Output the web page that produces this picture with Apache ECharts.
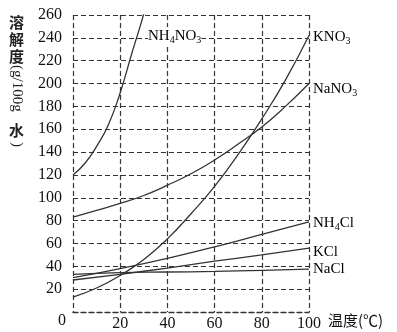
<!DOCTYPE html>
<html><head><meta charset="utf-8">
<script src="https://cdn.jsdelivr.net/npm/echarts@6/dist/echarts.min.js"></script>
<style>html,body{margin:0;padding:0;background:#fff}#c{width:397px;height:332px}</style>
</head><body><div id="c"></div>
<script>
var xTicks = [0, 20, 40, 60, 80, 100];
var yTicks = [0, 20, 40, 60, 80, 100, 120, 140, 160, 180, 200, 220, 240, 260];
var nh4no3 = [[0,120],[5,130],[10,145],[15,164],[20,192],[25,227],[30,261],[32,278]];
var kno3 = [[0,13],[10,21],[20,32],[30,46],[40,64],[50,86],[60,110],[70,138],[80,169],[90,203],[100,242]];
var nano3 = [[0,83],[10,89],[20,95],[30,102],[40,111],[50,121],[60,133],[70,147],[80,162],[90,180],[100,200]];
var nh4cl = [[0,30],[20,38],[40,47],[60,57],[80,68],[100,79]];
var kcl = [[0,28],[20,33],[40,38.5],[60,44.5],[80,50],[100,56]];
var nacl = [[0,33],[20,34.5],[40,35],[60,35.5],[80,36.5],[100,37.5]];

var serif = '"Liberation Serif","Times New Roman",serif';
var cjk = '"Noto Sans CJK SC",sans-serif';
var chart = echarts.init(document.getElementById('c'));
function ln(d){return {type:'line',data:d,smooth:true,symbol:'none',clip:true,lineStyle:{color:'#333',width:1.3}};}
var rich = {n:{fontFamily:serif,fontSize:15,color:'#111'},s:{fontFamily:serif,fontSize:10,color:'#111',padding:[8,0,0,0]}};
function lab(x,y,t){return {type:'text',left:x,top:y,z:100,style:{text:t,rich:rich,backgroundColor:'#fff'}};}
var dash = {type:[5,3],color:'#333',width:1.2};
chart.setOption({
  animation:false,
  grid:{left:73,right:88,top:15,bottom:20},
  xAxis:{type:'value',min:0,max:100,interval:20,
    axisLine:{show:true,onZero:false,lineStyle:{type:[5,3],color:'#333',width:1.4}},axisTick:{show:false},
    axisLabel:{showMinLabel:false,fontFamily:serif,fontSize:16,color:'#111',margin:4},
    splitLine:{show:true,lineStyle:dash}},
  yAxis:{type:'value',min:0,max:260,interval:20,
    axisLine:{show:false},axisTick:{show:false},
    axisLabel:{showMinLabel:false,fontFamily:serif,fontSize:16,color:'#111',margin:11},
    splitLine:{show:true,lineStyle:dash}},
  series:[ln(nh4no3),ln(kno3),ln(nano3),ln(nh4cl),ln(kcl),ln(nacl)],
  graphic:[
    lab(148,27,'{n|NH}{s|4}{n|NO}{s|3}'),
    lab(313,28,'{n|KNO}{s|3}'),
    lab(313,80,'{n|NaNO}{s|3}'),
    lab(313,214,'{n|NH}{s|4}{n|Cl}'),
    lab(313,245,'{n|KCl}'),
    lab(313,262,'{n|NaCl}'),
    {type:'text',left:58,top:313,style:{text:'0',font:'16px '+serif,fill:'#111'}},
    {type:'text',left:328,top:313,style:{text:'温度(℃)',font:'15px '+cjk,fill:'#111'}},
    {type:'text',left:9,top:14,style:{text:'溶\n解\n度',font:'bold 15px '+cjk,fill:'#222',lineHeight:17}},
    {type:'text',x:24,y:65,rotation:-Math.PI/2,style:{text:'(g/100g',font:'15px '+serif,fill:'#222'}},
    {type:'text',left:9,top:123,style:{text:'水',font:'bold 15px '+cjk,fill:'#222'}},
    {type:'text',x:24,y:142,rotation:-Math.PI/2,style:{text:')',font:'15px '+serif,fill:'#222'}}
  ]
});
</script></body></html>
